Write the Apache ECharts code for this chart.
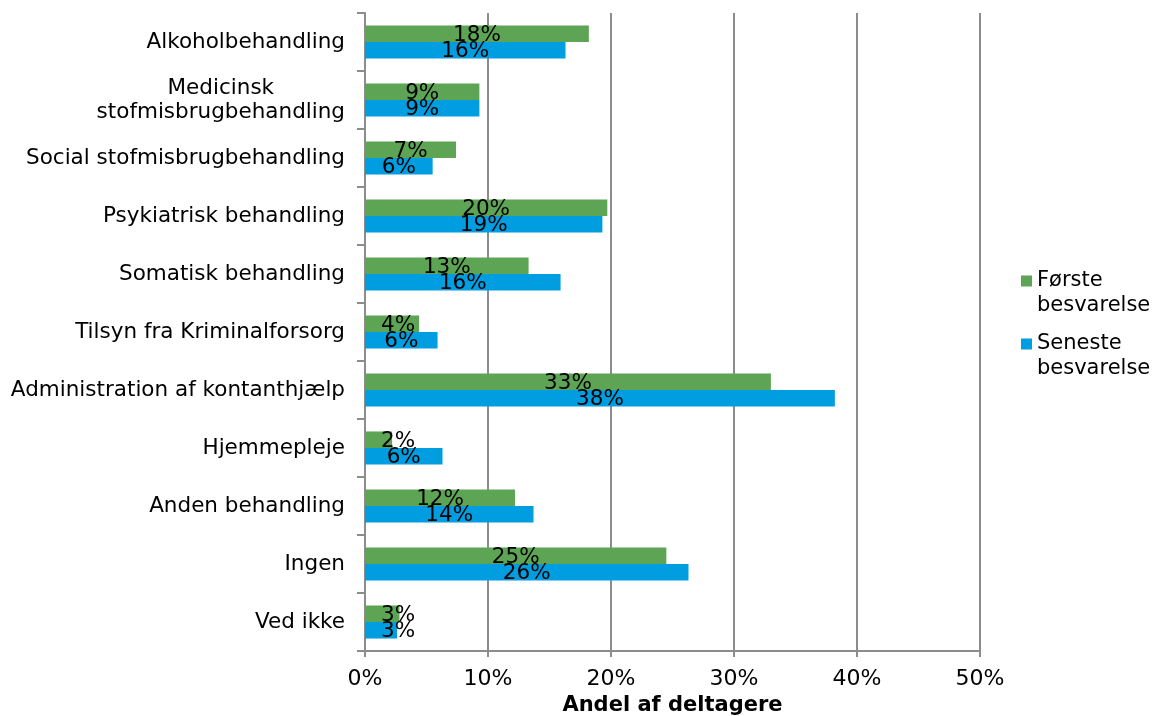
<!DOCTYPE html>
<html>
<head>
<meta charset="utf-8">
<script src="https://cdn.jsdelivr.net/npm/echarts@6/dist/echarts.min.js"></script>
<style>
  html, body { margin: 0; padding: 0; background: #fff; }
  #chart { width: 1153px; height: 716px; }
</style>
</head>
<body>
<div id="chart"></div>
<script>
// Support types, listed top to bottom
const categories = [
  'Alkoholbehandling',
  'Medicinsk\nstofmisbrugbehandling',
  'Social stofmisbrugbehandling',
  'Psykiatrisk behandling',
  'Somatisk behandling',
  'Tilsyn fra Kriminalforsorg',
  'Administration af kontanthjælp',
  'Hjemmepleje',
  'Anden behandling',
  'Ingen',
  'Ved ikke'
];

// Share of participants (%)
const foersteBesvarelse  = [18.2, 9.3, 7.4, 19.7, 13.3, 4.4, 33.0, 2.2, 12.2, 24.5, 2.8];
const senesteBesvarelse  = [16.3, 9.3, 5.5, 19.3, 15.9, 5.9, 38.2, 6.3, 13.7, 26.3, 2.6];

const seriesNames = ['Første\nbesvarelse', 'Seneste\nbesvarelse'];
const axisTitle = 'Andel af deltagere';

const FONT = '"DejaVu Sans", Verdana, sans-serif';
const GREEN = '#5DA554';
const BLUE = '#009EE0';
const GRID_GRAY = '#8C8C8C';

const chart = echarts.init(document.getElementById('chart'), null, { renderer: 'canvas' });

function barLabel() {
  return {
    show: true,
    position: 'inside',
    color: '#000',
    fontFamily: FONT,
    fontSize: 21.5,
    formatter: p => Math.round(p.value) + '%'
  };
}

// keep value labels clear of the category axis on very short bars
function keepOffAxis(params) {
  const lr = params.labelRect;
  const minLeft = params.rect.x + 16;
  return {
    x: Math.max(lr.x, minLeft) + lr.width / 2,
    y: lr.y + lr.height / 2 + 1.5,
    align: 'center',
    verticalAlign: 'middle'
  };
}

// one legend block per series: swatch lines up with the first text line
function legendBlock(name, top) {
  return {
    orient: 'vertical',
    left: 1021,
    top: top,
    padding: 0,
    itemWidth: 11,
    itemHeight: 11,
    icon: 'rect',
    data: [name],
    formatter: n => ' \n' + n,
    textStyle: { fontFamily: FONT, fontSize: 21, lineHeight: 25, color: '#000' }
  };
}

chart.setOption({
  animation: false,
  textStyle: { fontFamily: FONT },
  grid: {
    left: 365, right: 173, top: 13, bottom: 65,
    containLabel: false,
    outerBoundsMode: 'none'
  },
  legend: [
    legendBlock(seriesNames[0], 243.5),
    legendBlock(seriesNames[1], 306.5)
  ],
  xAxis: {
    type: 'value',
    min: 0,
    max: 50,
    interval: 10,
    name: axisTitle,
    nameLocation: 'middle',
    nameGap: 40,
    nameTextStyle: { fontFamily: FONT, fontSize: 21, fontWeight: 'bold', color: '#000' },
    axisLine: { show: true, lineStyle: { color: GRID_GRAY, width: 2 } },
    axisTick: { show: true, length: 6, lineStyle: { color: GRID_GRAY, width: 2 } },
    axisLabel: { fontFamily: FONT, fontSize: 22, color: '#000', margin: 17, formatter: '{value}%' },
    splitLine: { show: true, lineStyle: { color: GRID_GRAY, width: 2 } }
  },
  yAxis: {
    type: 'category',
    inverse: true,
    data: categories,
    axisLine: { show: true, lineStyle: { color: GRID_GRAY, width: 2 } },
    axisTick: { show: true, length: 8, alignWithLabel: false, lineStyle: { color: GRID_GRAY, width: 2 } },
    axisLabel: {
      fontFamily: FONT,
      fontSize: 21.5,
      color: '#000',
      margin: 20,
      lineHeight: 24,
      formatter: v => v.split('\n').map(s => '{c|' + s + '}').join('\n'),
      rich: { c: { align: 'center', fontFamily: FONT, fontSize: 21.5, color: '#000', lineHeight: 24 } }
    },
    splitLine: { show: false }
  },
  series: [
    {
      name: seriesNames[0],
      type: 'bar',
      data: foersteBesvarelse,
      itemStyle: { color: GREEN },
      barGap: '0%',
      barCategoryGap: '43%',
      label: barLabel(),
      labelLayout: keepOffAxis
    },
    {
      name: seriesNames[1],
      type: 'bar',
      data: senesteBesvarelse,
      itemStyle: { color: BLUE },
      barGap: '0%',
      barCategoryGap: '43%',
      label: barLabel(),
      labelLayout: keepOffAxis
    }
  ]
});
</script>
</body>
</html>
